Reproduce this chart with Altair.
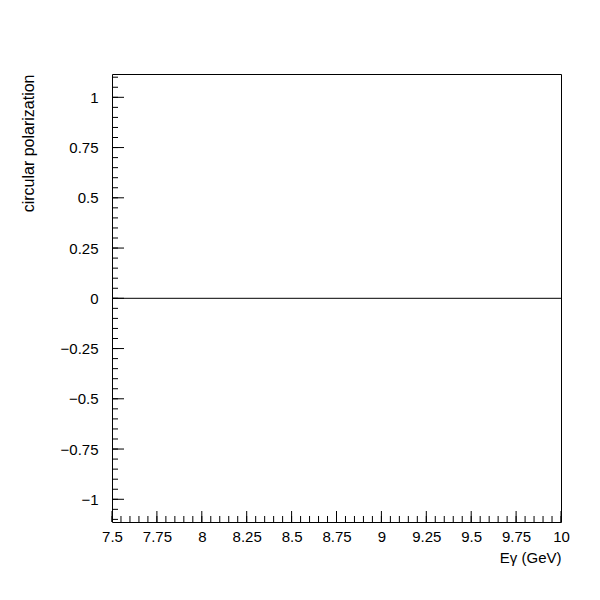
import altair as alt
import numpy as np
import pandas as pd

W, H = 449, 448

x_major = [7.5, 7.75, 8.0, 8.25, 8.5, 8.75, 9.0, 9.25, 9.5, 9.75, 10.0]
y_major = [-1.0, -0.75, -0.5, -0.25, 0.0, 0.25, 0.5, 0.75, 1.0]
x_minor = [round(v, 2) for v in np.arange(7.5, 10.001, 0.05)]
y_minor = [round(v, 2) for v in np.arange(-1.1, 1.1001, 0.05)]
zero_line = [0.0]

x_domain = [7.5, 10.0]
y_domain = [-1.113, 1.116]

FONT = "Liberation Sans"
LABEL_EXPR = "replace('' + datum.value, '-', '\u2212')"

xs = alt.Scale(domain=x_domain, nice=False, zero=False)
ys = alt.Scale(domain=y_domain, nice=False, zero=False)

base_x = alt.X(
    "v:Q", scale=xs,
    axis=alt.Axis(values=x_major, labelExpr=LABEL_EXPR, title="Eγ (GeV)", ticks=False, domain=False,
                  grid=False, labelPadding=7, labelFont=FONT, labelFontSize=15,
                  labelColor="black", labelFlush=False, labelOverlap=False,
                  titleFont=FONT, titleFontSize=15, titleFontWeight="normal",
                  titleColor="black", titleAnchor="end", titleAlign="right",
                  titleBaseline="alphabetic", titleX=W, titleY=40),
)

x_ticks_major = alt.Chart(pd.DataFrame({"v": x_major})).mark_rule(color="black", strokeWidth=1).encode(
    x=base_x, y=alt.value(H), y2=alt.value(H - 11))
x_ticks_minor = alt.Chart(pd.DataFrame({"v": x_minor})).mark_rule(color="black", strokeWidth=1).encode(
    x=alt.X("v:Q", scale=xs), y=alt.value(H), y2=alt.value(H - 6))

y_axis = alt.Axis(values=y_major, labelExpr=LABEL_EXPR, title="circular polarization", ticks=False,
                  domain=False, grid=False, labelPadding=14, labelFont=FONT, labelFontSize=15,
                  labelColor="black", labelFlush=False, labelOverlap=False,
                  titleFont=FONT, titleFontSize=16, titleFontWeight="normal",
                  titleColor="black", titleAnchor="end", titleAlign="right", titleAngle=270,
                  titleBaseline="alphabetic", titleX=-79, titleY=0)

y_ticks_major = alt.Chart(pd.DataFrame({"w": y_major})).mark_rule(color="black", strokeWidth=1).encode(
    y=alt.Y("w:Q", scale=ys, axis=y_axis), x=alt.value(0), x2=alt.value(12))
y_ticks_minor = alt.Chart(pd.DataFrame({"w": y_minor})).mark_rule(color="black", strokeWidth=1).encode(
    y=alt.Y("w:Q", scale=ys), x=alt.value(0), x2=alt.value(6))

zero = alt.Chart(pd.DataFrame({"w": zero_line})).mark_rule(color="black", strokeWidth=1).encode(
    y=alt.Y("w:Q", scale=ys))

chart = alt.layer(x_ticks_minor, x_ticks_major, y_ticks_minor, y_ticks_major, zero).properties(
    width=W, height=H,
    autosize=alt.AutoSizeParams(type="none"),
    padding={"left": 104, "top": 66, "right": 31, "bottom": 70},
    background="white",
).configure_view(stroke="black", strokeWidth=1)

chart.save("out.html", embed_options={"renderer": "svg", "actions": False})
